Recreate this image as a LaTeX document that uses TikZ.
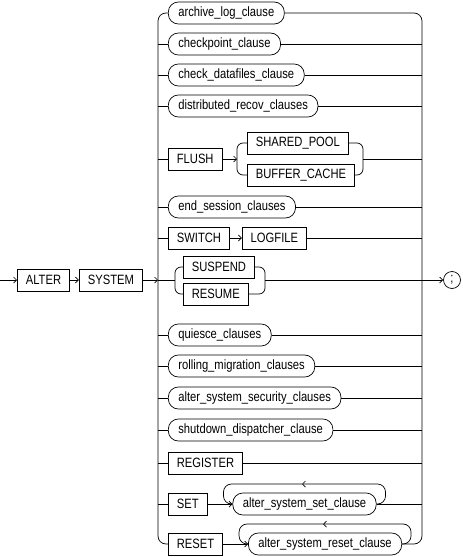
\documentclass[tikz,border=0pt]{standalone}
\usepackage{fontspec}
\setmainfont{Liberation Sans}[FakeStretch=0.83]
\usetikzlibrary{arrows.meta,positioning}

\begin{document}
\begin{tikzpicture}[x=1pt,y=-1pt,line width=0.7pt,
                    >={Straight Barb[length=3pt,width=6pt]},
                    kw node/.style={rectangle,draw,minimum height=22pt,inner xsep=8.5pt,inner ysep=0pt,font=\fontsize{13.5}{16}\selectfont},
                    cl node/.style={rectangle,rounded corners=10pt,draw,minimum height=22pt,inner xsep=10pt,inner ysep=0pt,font=\fontsize{13.5}{16}\selectfont}]
  \useasboundingbox (0,0) rectangle (463,557);

%DRAWING RAILS
  \coordinate (start) at (0,280);
  \coordinate (leftrail) at (158,0);
  \coordinate (rightrail) at (422,0);

%DRAWING BOXES
  \node[kw node,anchor=west] (alter) at (17,280) {ALTER};
  \node[kw node,right=9pt of alter] (system) {SYSTEM};

  \node[cl node,anchor=west] (archive) at (168,13) {archive\_log\_clause};
  \node[cl node,anchor=west] (checkpoint) at (168,44) {checkpoint\_clause};
  \node[cl node,anchor=west] (datafiles) at (168,75) {check\_datafiles\_clause};
  \node[cl node,anchor=west] (recov) at (168,106) {distributed\_recov\_clauses};
  \node[kw node,anchor=west] (flush) at (168,159) {FLUSH};
  \node[kw node,anchor=west] (shared) at (247,143) {SHARED\_POOL};
  \node[kw node,anchor=west] (buffer) at (247,175) {BUFFER\_CACHE};
  \node[cl node,anchor=west] (endsession) at (168,207) {end\_session\_clauses};
  \node[kw node,anchor=west] (switch) at (168,238) {SWITCH};
  \node[kw node,right=12pt of switch] (logfile) {LOGFILE};
  \node[kw node,anchor=west] (suspend) at (183,267) {SUSPEND};
  \node[kw node,anchor=west] (resume) at (183,294) {RESUME};
  \node[cl node,anchor=west] (quiesce) at (168,335) {quiesce\_clauses};
  \node[cl node,anchor=west] (rolling) at (168,366) {rolling\_migration\_clauses};
  \node[cl node,anchor=west] (security) at (168,398) {alter\_system\_security\_clauses};
  \node[cl node,anchor=west] (shutdown) at (168,430) {shutdown\_dispatcher\_clause};
  \node[kw node,anchor=west] (register) at (168,463) {REGISTER};
  \node[kw node,anchor=west] (set) at (168,504) {SET};
  \node[cl node,right=25pt of set] (setcl) {alter\_system\_set\_clause};
  \node[kw node,anchor=west] (reset) at (168,544) {RESET};
  \node[cl node,right=25pt of reset] (resetcl) {alter\_system\_reset\_clause};
  \node[circle,draw,minimum size=17pt,inner sep=0pt,font=\fontsize{13.5}{16}\selectfont] (semi) at (452,280) {;};

  \coordinate (flushL) at (237,159);
  \coordinate (flushR) at (363,159);
  \coordinate (suspL) at (175,280);
  \coordinate (suspR) at (265,280);
  \coordinate (setmid) at (302,484);
  \coordinate (resetmid) at (323,524);

%DRAWING MAIN LINE
  \draw[->] (start) -- (alter);
  \draw[->] (alter) -- (system);
  \draw[->] (system) -- (system.east -| leftrail);
  \draw (system.east -| leftrail) -- (suspL);
  \draw[->] (suspR) -- (semi);

  \draw[rounded corners=8pt] (archive.west) -| (leftrail |- reset.west) -- (reset.west);
  \draw[rounded corners=8pt] (archive.east) -| (rightrail |- resetcl.east) -- (resetcl.east);

  \foreach \n in {checkpoint,datafiles,recov,flush,endsession,switch,quiesce,rolling,security,shutdown,register,set}
    \draw (\n.west -| leftrail) -- (\n.west);
  \foreach \n in {checkpoint,datafiles,recov,endsession,logfile,quiesce,rolling,security,shutdown,register,setcl}
    \draw (\n.east) -- (\n.east -| rightrail);

%DRAWING CHOICES
  \draw[->] (flush) -- (flushL);
  \draw[rounded corners=6pt] (shared.west) -| (flushL |- buffer.west) -- (buffer.west);
  \draw[rounded corners=6pt] (shared.east) -| (flushR |- buffer.east) -- (buffer.east);
  \draw (flushR) -- (flushR -| rightrail);

  \draw[->] (switch) -- (logfile);

  \draw[rounded corners=6pt] (suspend.west) -| (suspL |- resume.west) -- (resume.west);
  \draw[rounded corners=6pt] (suspend.east) -| (suspR |- resume.east) -- (resume.east);

%DRAWING LOOPS
  \draw[->] (set) -- (setcl);
  \draw[rounded corners=8pt,->] (setcl.east) -- ([xshift=9pt]setcl.east) |- (setmid);
  \draw[rounded corners=8pt] (setmid) -| ([xshift=-9pt]setcl.west) -- (setcl.west);

  \draw[->] (reset) -- (resetcl);
  \draw[rounded corners=8pt,->] (resetcl.east) -- ([xshift=9pt]resetcl.east) |- (resetmid);
  \draw[rounded corners=8pt] (resetmid) -| ([xshift=-9pt]resetcl.west) -- (resetcl.west);

\end{tikzpicture}
\end{document}
